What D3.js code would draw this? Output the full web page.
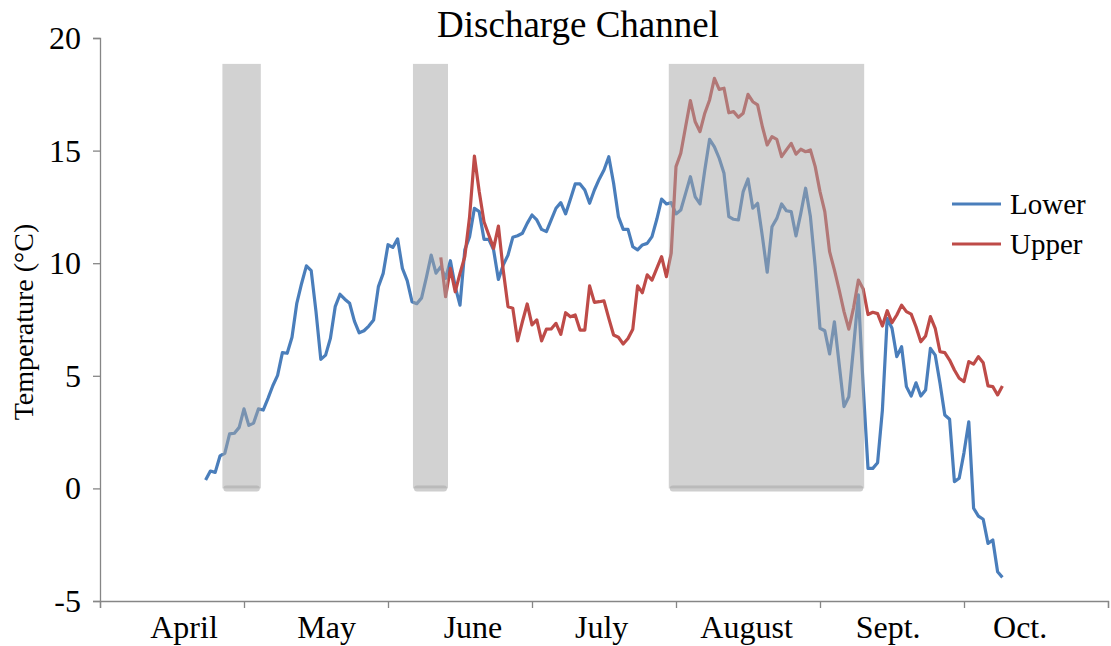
<!DOCTYPE html>
<html>
<head>
<meta charset="utf-8">
<script src="https://cdn.jsdelivr.net/npm/d3@7"></script>
<style>
  body { margin: 0; background: #fff; }
  svg text { font-family: "Liberation Serif", "Times New Roman", serif; fill: #000; }
</style>
</head>
<body>
<svg id="chart" width="1111" height="646"></svg>
<script>
// Month categories and where their labels sit (in day units from April 1)
const months = ['April', 'May', 'June', 'July', 'August', 'Sept.', 'Oct.'];
const monthLabelDay = [17.5, 47.2, 77.7, 104.5, 134.7, 164.2, 191.7];
const monthTickDays = [0, 30, 60, 90, 120, 150, 180, 210];
const yTicks = [-5, 0, 5, 10, 15, 20];

// Shaded periods (day units) and their height
const shadeStart = [25.5, 65.2, 118.5];
const shadeEnd = [33.5, 72.5, 159.2];
const shadeTop = 18.85;

// Daily temperatures, first value is on day lowerStart / upperStart
const lowerStart = 22;
const lowerValues = [
  0.37, 0.77, 0.71, 1.44, 1.56, 2.42, 2.45, 2.71, 3.53, 2.8,
  2.9, 3.53, 3.48, 4.0, 4.56, 5.02, 6.03, 6.0, 6.71, 8.22,
  9.1, 9.88, 9.67, 7.85, 5.73, 5.92, 6.66, 8.07, 8.62, 8.4,
  8.22, 7.43, 6.91, 7.0, 7.21, 7.48, 8.96, 9.55, 10.82, 10.7,
  11.08, 9.77, 9.23, 8.29, 8.2, 8.46, 9.37, 10.36, 9.56, 9.85,
  9.33, 10.11, 8.96, 8.14, 10.59, 11.18, 12.44, 12.29, 11.06, 11.06,
  10.59, 9.28, 9.92, 10.36, 11.15, 11.22, 11.33, 11.77, 12.14, 11.92,
  11.5, 11.4, 11.92, 12.44, 12.69, 12.19, 12.84, 13.52, 13.52, 13.25,
  12.66, 13.25, 13.73, 14.14, 14.73, 13.55, 12.07, 11.5, 11.5, 10.73,
  10.59, 10.81, 10.88, 11.18, 11.95, 12.85, 12.63, 12.69, 12.19, 12.36,
  13.1, 13.84, 12.95, 12.63, 14.14, 15.5, 15.17, 14.66, 13.99, 12.07,
  11.95, 11.92, 13.18, 13.74, 12.44, 12.66, 11.18, 9.6, 11.62, 11.99,
  12.63, 12.33, 12.29, 11.21, 12.21, 13.33, 12.07, 9.85, 7.11, 7.0,
  5.97, 7.4, 5.5, 3.63, 4.07, 6.29, 8.59, 4.5, 0.89, 0.89,
  1.14, 3.48, 7.55, 7.11, 5.85, 6.29, 4.52, 4.1, 4.69, 4.1,
  4.37, 6.22, 5.92, 4.67, 3.26, 3.07, 0.3, 0.45, 1.59, 2.96,
  -0.88, -1.23, -1.37, -2.44, -2.29, -3.7, -3.95
];
const upperStart = 71;
const upperValues = [
  10.26, 8.51, 9.77, 8.73, 9.55, 10.29, 12.07, 14.76, 13.18, 11.84,
  11.25, 10.66, 11.65, 9.7, 8.07, 8.0, 6.55, 7.4, 8.19, 7.26,
  7.48, 6.55, 7.07, 7.08, 7.33, 6.84, 7.8, 7.62, 7.7, 7.03,
  7.03, 8.99, 8.26, 8.29, 8.33, 7.55, 6.81, 6.71, 6.41, 6.66,
  7.07, 8.99, 8.69, 9.48, 9.25, 9.77, 10.29, 9.4, 10.44, 14.29,
  14.88, 16.06, 17.22, 16.28, 15.84, 16.66, 17.25, 18.21, 17.72, 17.77,
  16.68, 16.73, 16.48, 16.66, 17.5, 17.17, 17.03, 16.06, 15.25, 15.62,
  15.5, 14.73, 15.03, 15.32, 14.84, 15.06, 14.95, 15.03, 14.29, 13.18,
  12.29, 10.51, 9.7, 8.81, 7.85, 7.07, 8.03, 9.25, 8.85, 7.72,
  7.82, 7.76, 7.21, 7.89, 7.36, 7.7, 8.14, 7.85, 7.74, 7.18,
  6.51, 6.77, 7.63, 7.11, 6.07, 6.03, 5.7, 5.26, 4.89, 4.74,
  5.63, 5.52, 5.85, 5.58, 4.55, 4.52, 4.15, 4.55
];

const seriesNames = ['Lower', 'Upper'];
const seriesColors = ['#4a7ebb', '#be4b48'];

const svg = d3.select('#chart');
const plotLeft = 100, plotRight = 1108, plotTop = 38, plotBottom = 601;

const x = d3.scaleLinear().domain([0, 210]).range([plotLeft, plotRight]);
const y = d3.scaleLinear().domain([-5, 20]).range([plotBottom, plotTop]);

const toPoints = (start, vals) => vals.map((v, i) => ({ d: start + i, v }));
const series = [
  toPoints(lowerStart, lowerValues),
  toPoints(upperStart, upperValues)
];

// Lines
const line = d3.line().x(p => x(p.d)).y(p => y(p.v));
series.forEach((s, i) => {
  svg.append('path')
    .datum(s)
    .attr('d', line)
    .attr('fill', 'none')
    .attr('stroke', seriesColors[i])
    .attr('stroke-width', 3.2)
    .attr('stroke-linejoin', 'round');
});

// Shaded periods, drawn on top and see-through
const shades = svg.append('g');
shadeStart.forEach((s, i) => {
  shades.append('rect')
    .attr('x', x(s))
    .attr('y', y(shadeTop))
    .attr('width', x(shadeEnd[i]) - x(s))
    .attr('height', y(0) - y(shadeTop))
    .attr('fill', '#a6a6a6')
    .attr('opacity', 0.5);
  shades.append('rect')
    .attr('x', x(s) + 1)
    .attr('y', y(0) - 3)
    .attr('width', x(shadeEnd[i]) - x(s) - 2)
    .attr('height', 6)
    .attr('rx', 3)
    .attr('fill', '#a6a6a6')
    .attr('opacity', 0.55);
});

// Y axis
const yAxis = svg.append('g')
  .attr('transform', `translate(${plotLeft},0)`)
  .call(d3.axisLeft(y).tickValues(yTicks).tickSize(7).tickPadding(12).tickFormat(d => String(d)));
yAxis.selectAll('line, path').attr('stroke', '#868686').attr('stroke-width', 1.3);
yAxis.selectAll('text').style('font-size', '32px').attr('dy', '0.33em');

// X axis
const xAxis = svg.append('g')
  .attr('transform', `translate(0,${plotBottom})`)
  .call(d3.axisBottom(x).tickValues(monthTickDays).tickSize(7).tickFormat(''));
xAxis.selectAll('line, path').attr('stroke', '#868686').attr('stroke-width', 1.3);

svg.append('g').selectAll('text')
  .data(months)
  .join('text')
  .attr('x', (m, i) => x(monthLabelDay[i]))
  .attr('y', 638)
  .attr('text-anchor', 'middle')
  .style('font-size', '32px')
  .text(m => m);

// Title and axis label
svg.append('text')
  .attr('x', 578)
  .attr('y', 37)
  .attr('text-anchor', 'middle')
  .style('font-size', '37px')
  .text('Discharge Channel');

svg.append('text')
  .attr('transform', 'translate(33,322) rotate(-90)')
  .attr('text-anchor', 'middle')
  .style('font-size', '28px')
  .text('Temperature (°C)');

// Legend
const legend = svg.append('g');
seriesNames.forEach((name, i) => {
  const ly = 204 + i * 40;
  legend.append('line')
    .attr('x1', 952).attr('x2', 1001)
    .attr('y1', ly).attr('y2', ly)
    .attr('stroke', seriesColors[i])
    .attr('stroke-width', 3.2);
  legend.append('text')
    .attr('x', 1010)
    .attr('y', ly + 10)
    .style('font-size', '29px')
    .text(name);
});
</script>
</body>
</html>
